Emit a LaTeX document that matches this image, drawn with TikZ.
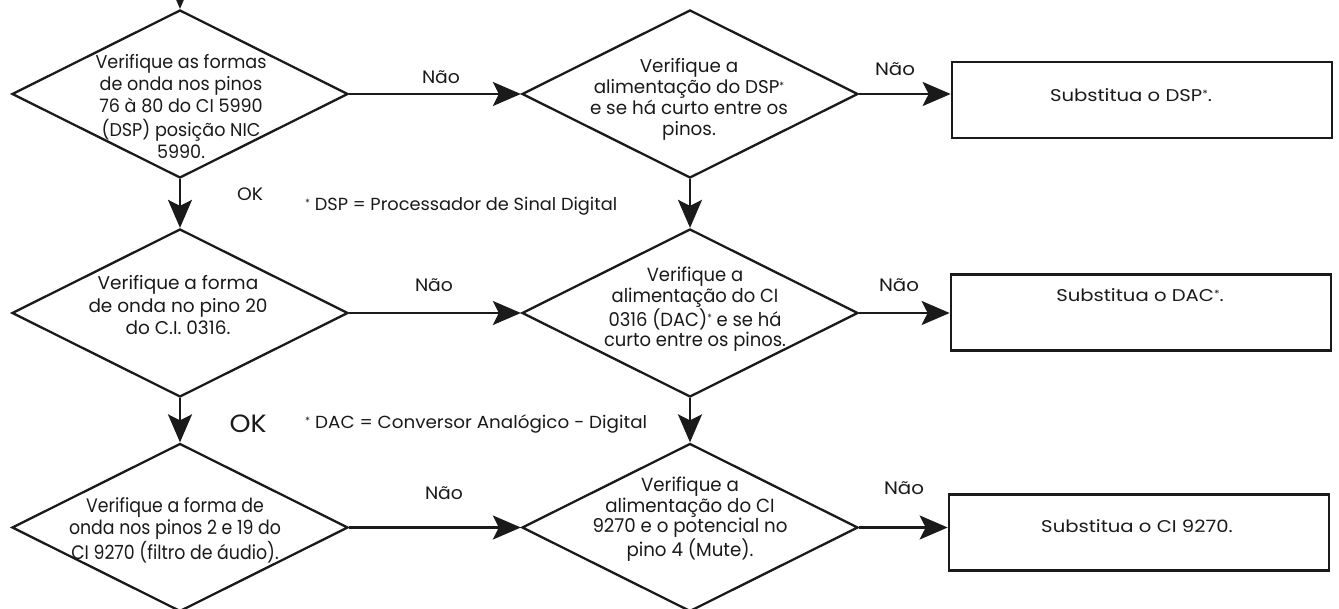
\documentclass[tikz,border=0pt]{standalone}
\usepackage{fontspec}
\usepackage{graphicx}
\setmainfont{Poppins}
\usetikzlibrary{shapes.geometric,arrows.meta}
\definecolor{ink}{HTML}{1A1A1A}
\newsavebox\fitbox
\newlength\fitlen
% fit a centred block of lines to a target width (pt), keeping its height
\newcommand\fitw[2]{\sbox\fitbox{\begin{tabular}{@{}c@{}}#2\end{tabular}}%
  \setlength\fitlen{\wd\fitbox}%
  \pgfmathsetmacro\fitfac{#1/\fitlen}%
  \scalebox{\fitfac}[1]{\usebox\fitbox}}
% scale by a given factor
\newcommand\facw[2]{\sbox\fitbox{\begin{tabular}{@{}c@{}}#2\end{tabular}}%
  \scalebox{#1}[1]{\usebox\fitbox}}
\newcommand\fnast{\raisebox{0.45ex}{\fontsize{10pt}{10pt}\selectfont*}}
\begin{document}
\begin{tikzpicture}[x=1pt,y=-1pt,
  dia/.style={draw=ink, line width=2.3pt, shape=diamond, minimum width=336pt, minimum height=168pt, inner sep=0pt},
  box/.style={draw=ink, line width=2.7pt, minimum width=380pt, minimum height=76pt, inner sep=0pt},
  txt/.style={text=ink, inner sep=0pt},
  arr/.style={draw=ink, line width=2.5pt, -{Stealth[length=28pt,width=24pt,inset=6pt]}},
]
\useasboundingbox (0,0) rectangle (1339,609);
\fill[white] (0,0) rectangle (1339,609);
\clip (0,0) rectangle (1339,609);

% diamonds
\node[dia] (d1) at (180,94) {};
\node[dia] (d2) at (180,313) {};
\node[dia] (d3) at (180,527.5) {};
\node[dia] (d4) at (690,94) {};
\node[dia] (d5) at (690,313) {};
\node[dia] (d6) at (690,527.5) {};

% boxes
\node[box] (b1) at (1142,100) {};
\node[box] (b2) at (1141,312.5) {};
\node[box] (b3) at (1139,532.5) {};

% texts
\node[txt, font=\fontsize{18.5pt}{22pt}\selectfont] (t1) at (181,109) {\fitw{171}{Verifique as formas\\de onda nos pinos\\76 à 80 do CI 5990\\(DSP) posição NIC\\5990.}};
\node[txt, font=\fontsize{18.5pt}{22.5pt}\selectfont] (t2) at (178,308) {\fitw{179}{Verifique a forma\\de onda no pino 20\\do C.I. 0316.}};
\node[txt, font=\fontsize{19.5pt}{22pt}\selectfont] (t3) at (175,532) {\fitw{212}{Verifique a forma de\\onda nos pinos 2 e 19 do\\CI 9270 (filtro de áudio).}};
\node[txt, font=\fontsize{18.5pt}{21pt}\selectfont] (t4) at (689,100) {\fitw{198}{Verifique a\\alimentação do DSP\fnast\\e se há curto entre os\\pinos.}};
\node[txt, font=\fontsize{19pt}{20.3pt}\selectfont] (t5) at (695,310) {\fitw{182}{Verifique a\\alimentação do CI\\0316 (DAC)\fnast{} e se há\\curto entre os pinos.}};
\node[txt, font=\fontsize{19pt}{20.7pt}\selectfont] (t6) at (690,520) {\fitw{195}{Verifique a\\alimentação do CI\\9270 e o potencial no\\pino 4 (Mute).}};
\node[txt, font=\fontsize{17pt}{20pt}\selectfont] (s1) at (1131,98) {\fitw{162}{Substitua o DSP\fnast.}\xdef\boxfac{\fitfac}};
\node[txt, font=\fontsize{17pt}{20pt}\selectfont] (s2) at (1140,298) {\facw{\boxfac}{Substitua o DAC\fnast.}};
\node[txt, font=\fontsize{17pt}{20pt}\selectfont] (s3) at (1137,528) {\facw{\boxfac}{Substitua o CI 9270.}};

% connectors
\coordinate (top) at (180,-30);
\draw[arr] (top) -- (d1.north);
\draw[arr] (d1.east) -- (d4.west);
\draw[arr] (d4.east) -- (d4.east -| b1.west);
\draw[arr] (d2.east) -- (d5.west);
\draw[arr] (d5.east) -- (d5.east -| b2.west);
\draw[arr] (d3.east) -- (d6.west);
\draw[arr] (d6.east) -- (d6.east -| b3.west);
\draw[arr] (d1.south) -- (d2.north);
\draw[arr] (d2.south) -- (d3.north);
\draw[arr] (d4.south) -- (d5.north);
\draw[arr] (d5.south) -- (d6.north);

% labels
\begin{scope}[every node/.style={txt, font=\fontsize{18pt}{20pt}\selectfont}]
\node (n1) at (441,80) {\fitw{38}{Não}};
\node (n2) at (434,288) {\fitw{38}{Não}};
\node (n3) at (444,495) {\fitw{38}{Não}};
\node (n4) at (895,72) {\fitw{40}{Não}};
\node (n5) at (899,288) {\fitw{40}{Não}};
\node (n6) at (904,490) {\fitw{40}{Não}};
\node (ok1) at (250,197) {\fitw{26}{OK}};
\node[font=\fontsize{25pt}{27pt}\selectfont] (ok2) at (248,427) {\fitw{37}{OK}};
\node[anchor=west, font=\fontsize{17.5pt}{20pt}\selectfont] (f1) at (305,207) {\fitw{312}{\fnast{} DSP = Processador de Sinal Digital}};
\node[anchor=west, font=\fontsize{17.5pt}{20pt}\selectfont] (f2) at (305,425) {\fitw{342}{\fnast{} DAC = Conversor Analógico - Digital}};
\end{scope}
\end{tikzpicture}
\end{document}
